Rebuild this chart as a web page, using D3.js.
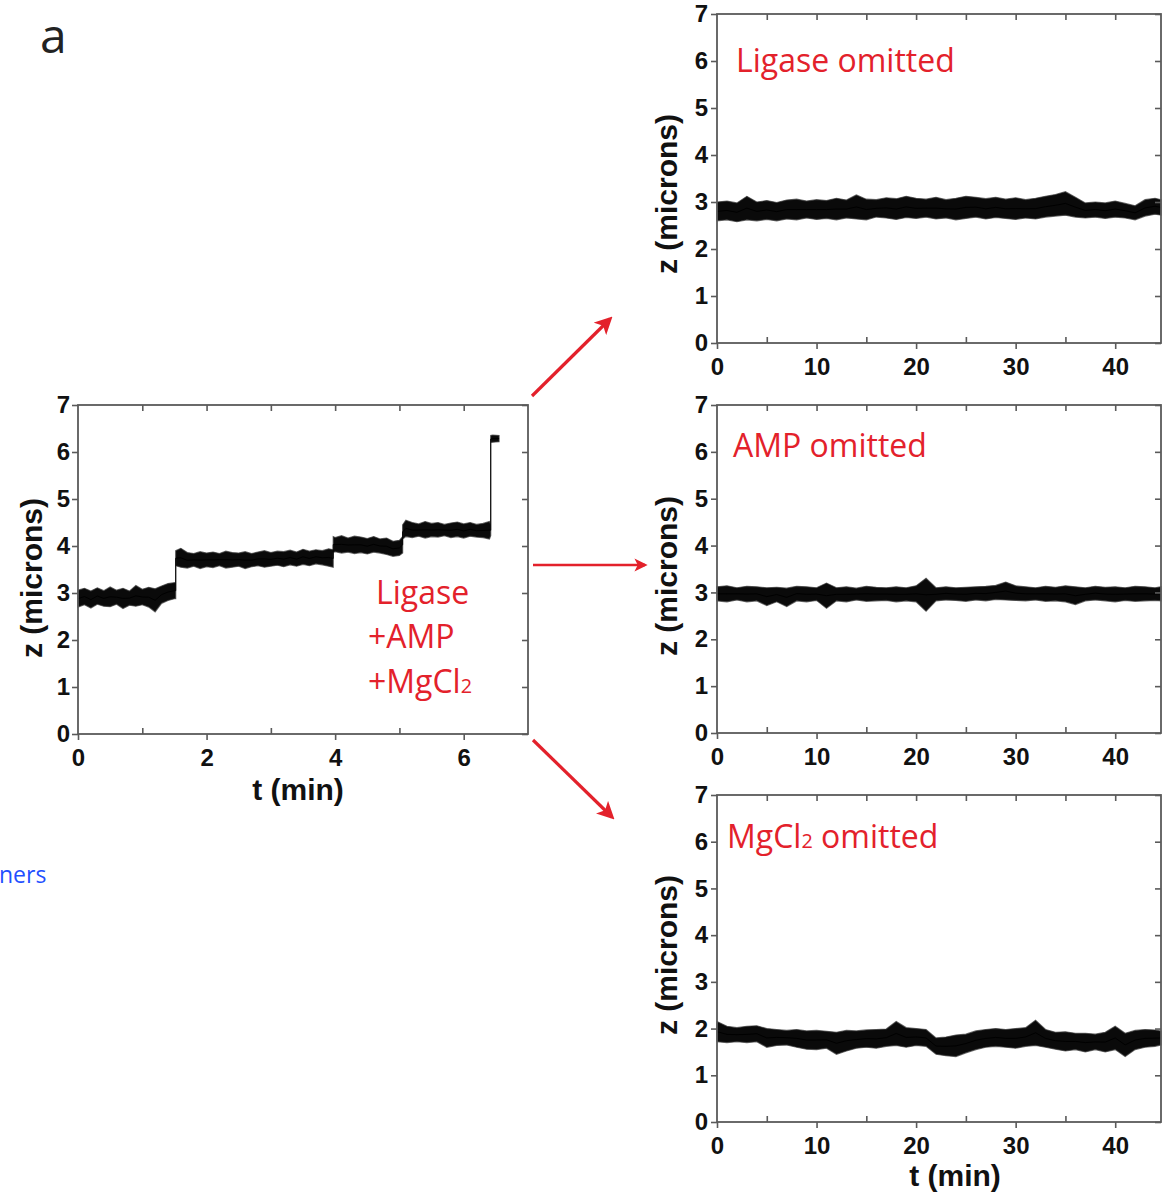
<!DOCTYPE html>
<html>
<head>
<meta charset="utf-8">
<script src="https://cdn.jsdelivr.net/npm/d3@7"></script>
<style>
  body { margin: 0; background: #fff; }
  svg { display: block; }
</style>
</head>
<body>
<svg width="1162" height="1195"></svg>
<script>
// ---- data (band = upper / lower edge of the noisy trace) ----

// full reaction: Ligase + AMP + MgCl2, t in min
let mainT = [0, 0.1, 0.2, 0.3, 0.4, 0.5, 0.6, 0.7, 0.8, 0.9, 1.0, 1.1, 1.2, 1.3, 1.4, 1.5, 1.52,
  1.52, 1.6, 1.7, 1.8, 1.9, 2.0, 2.1, 2.2, 2.3, 2.4, 2.5, 2.6, 2.7, 2.8, 2.9, 3.0, 3.1, 3.2, 3.3, 3.4, 3.5, 3.6, 3.7, 3.8, 3.9, 3.97,
  3.97, 4.0, 4.1, 4.2, 4.3, 4.4, 4.5, 4.6, 4.7, 4.8, 4.9, 5.0, 5.05,
  5.05, 5.1, 5.2, 5.3, 5.4, 5.5, 5.6, 5.7, 5.8, 5.9, 6.0, 6.1, 6.2, 6.3, 6.4, 6.42,
  6.42, 6.45, 6.55];
let mainHi = [3.06, 3.10, 3.04, 3.11, 3.05, 3.13, 3.06, 3.10, 3.04, 3.16, 3.08, 3.12, 3.09, 3.15, 3.20, 3.22, 3.22,
  3.90, 3.95, 3.86, 3.84, 3.88, 3.85, 3.87, 3.84, 3.89, 3.86, 3.85, 3.88, 3.84, 3.87, 3.90, 3.86, 3.89, 3.88, 3.91, 3.87, 3.93, 3.89, 3.92, 3.90, 3.94, 3.92,
  4.20, 4.18, 4.22, 4.17, 4.21, 4.19, 4.16, 4.20, 4.15, 4.17, 4.10, 4.12, 4.20,
  4.45, 4.55, 4.50, 4.47, 4.52, 4.48, 4.50, 4.46, 4.49, 4.51, 4.47, 4.50, 4.46, 4.48, 4.52, 4.45,
  6.35, 6.36, 6.35];
let mainLo = [2.70, 2.75, 2.68, 2.76, 2.72, 2.71, 2.76, 2.67, 2.74, 2.72, 2.75, 2.70, 2.60, 2.78, 2.84, 2.88, 2.88,
  3.58, 3.55, 3.53, 3.57, 3.52, 3.56, 3.54, 3.58, 3.53, 3.55, 3.57, 3.52, 3.56, 3.58, 3.55, 3.57, 3.59, 3.56, 3.60, 3.57, 3.61, 3.58, 3.62, 3.60, 3.57, 3.55,
  3.86, 3.88, 3.85, 3.87, 3.84, 3.86, 3.83, 3.87, 3.85, 3.82, 3.78, 3.80, 3.85,
  4.15, 4.20, 4.18, 4.21, 4.17, 4.20, 4.19, 4.22, 4.18, 4.20, 4.17, 4.21, 4.19, 4.18, 4.15, 4.22,
  6.20, 6.21, 6.22];

// control runs, t in min (shared time grid)
let ctrlT = [0, 1, 2, 3, 4, 5, 6, 7, 8, 9, 10, 11, 12, 13, 14, 15, 16, 17, 18, 19, 20, 21, 22,
  23, 24, 25, 26, 27, 28, 29, 30, 31, 32, 33, 34, 35, 36, 37, 38, 39, 40, 41, 42, 43, 44, 44.6];

let noLigaseHi = [3.00, 3.02, 2.98, 3.12, 3.00, 3.03, 2.99, 3.04, 3.06, 3.02, 3.05, 3.03, 3.08, 3.04, 3.15, 3.06, 3.05, 3.09, 3.07, 3.12, 3.08, 3.06, 3.10,
  3.05, 3.08, 3.12, 3.10, 3.07, 3.10, 3.06, 3.09, 3.05, 3.08, 3.12, 3.16, 3.22, 3.10, 2.98, 3.00, 2.98, 3.02, 2.97, 2.92, 3.05, 3.08, 3.05];
let noLigaseLo = [2.60, 2.62, 2.58, 2.62, 2.60, 2.63, 2.60, 2.64, 2.62, 2.66, 2.63, 2.65, 2.62, 2.66, 2.64, 2.62, 2.68, 2.66, 2.63, 2.67, 2.65, 2.68, 2.64,
  2.66, 2.62, 2.65, 2.68, 2.64, 2.67, 2.65, 2.63, 2.66, 2.64, 2.68, 2.70, 2.72, 2.68, 2.66, 2.68, 2.65, 2.68, 2.66, 2.62, 2.70, 2.74, 2.72];

let noAmpHi = [3.12, 3.14, 3.10, 3.13, 3.12, 3.10, 3.11, 3.09, 3.13, 3.12, 3.10, 3.20, 3.10, 3.12, 3.09, 3.13, 3.11, 3.10, 3.12, 3.10, 3.14, 3.30, 3.10,
  3.12, 3.10, 3.11, 3.12, 3.13, 3.15, 3.22, 3.14, 3.12, 3.10, 3.13, 3.11, 3.14, 3.12, 3.10, 3.13, 3.11, 3.12, 3.10, 3.13, 3.12, 3.10, 3.12];
let noAmpLo = [2.82, 2.80, 2.84, 2.80, 2.82, 2.72, 2.80, 2.70, 2.82, 2.80, 2.83, 2.66, 2.82, 2.80, 2.84, 2.81, 2.82, 2.83, 2.80, 2.82, 2.80, 2.60, 2.82,
  2.84, 2.83, 2.81, 2.84, 2.82, 2.85, 2.84, 2.83, 2.82, 2.84, 2.81, 2.82, 2.80, 2.74, 2.82, 2.84, 2.82, 2.80, 2.83, 2.81, 2.82, 2.83, 2.82];

let noMgHi = [2.15, 2.05, 2.02, 2.05, 2.06, 2.00, 1.98, 1.96, 1.98, 1.95, 1.96, 1.94, 1.92, 1.96, 1.95, 1.97, 1.98, 1.99, 2.15, 2.02, 2.00, 1.98, 1.80,
  1.82, 1.86, 1.88, 1.95, 1.98, 2.00, 1.98, 2.00, 2.02, 2.18, 1.98, 1.92, 1.93, 1.90, 1.90, 1.88, 1.92, 2.05, 1.90, 1.96, 1.98, 1.97, 1.95];
let noMgLo = [1.72, 1.70, 1.72, 1.70, 1.72, 1.60, 1.64, 1.65, 1.60, 1.56, 1.55, 1.58, 1.45, 1.52, 1.58, 1.60, 1.58, 1.62, 1.64, 1.60, 1.64, 1.62, 1.45,
  1.42, 1.40, 1.48, 1.55, 1.60, 1.62, 1.60, 1.58, 1.62, 1.64, 1.60, 1.56, 1.52, 1.55, 1.50, 1.55, 1.50, 1.55, 1.40, 1.55, 1.60, 1.62, 1.65];

let yTicks = [0, 1, 2, 3, 4, 5, 6, 7];
let mainXMajor = [0, 2, 4, 6];
let mainXMinor = [1, 3, 5];
let mainXTop = [1, 2, 3, 4, 5, 6];
let ctrlXMajor = [0, 10, 20, 30, 40];
let ctrlXMinor = [5, 15, 25, 35];
let ctrlXTop = [5, 10, 15, 20, 25, 30, 35, 40];

/***************************/

let svg = d3.select("svg");
let red = "#e3212b";
let tickFont = "'Liberation Sans', Arial, sans-serif";
let labelFont = "'Open Sans', 'Noto Sans', sans-serif";
let fmt = d3.format("d");

function drawPanel(p) {
  let x = d3.scaleLinear().domain(p.xDomain).range([p.left, p.right]);
  let y = d3.scaleLinear().domain([0, 7]).range([p.bottom, p.top]);
  let g = svg.append("g");

  // trace band
  let rows = p.t.map((t, i) => ({t: t, hi: p.hi[i], lo: p.lo[i]}));
  let area = d3.area()
    .x(d => x(d.t))
    .y0(d => y(d.lo))
    .y1(d => y(d.hi));
  let mid = d3.line()
    .x(d => x(d.t))
    .y(d => y((d.hi + d.lo) / 2));
  g.append("path")
    .datum(rows)
    .attr("d", area)
    .attr("fill", "#0a0a0a")
    .attr("stroke", "#333")
    .attr("stroke-width", 1.2)
    .attr("stroke-opacity", 0.7);
  g.append("path")
    .datum(rows)
    .attr("d", mid)
    .attr("fill", "none")
    .attr("stroke", "#000")
    .attr("stroke-width", 1);

  // frame
  g.append("rect")
    .attr("x", p.left).attr("y", p.top)
    .attr("width", p.right - p.left).attr("height", p.bottom - p.top)
    .attr("fill", "none").attr("stroke", "#5a5a5a").attr("stroke-width", 1.8);

  // left axis, ticks outward with labels
  let yAx = g.append("g")
    .attr("transform", `translate(${p.left},0)`)
    .call(d3.axisLeft(y).tickValues(yTicks).tickFormat(fmt).tickSize(6).tickPadding(p.yPad));
  // right frame, ticks inward
  let yAxR = g.append("g")
    .attr("transform", `translate(${p.right},0)`)
    .call(d3.axisLeft(y).tickValues(yTicks).tickSize(6).tickFormat(""));
  // bottom axis, major outward
  let xAx = g.append("g")
    .attr("transform", `translate(0,${p.bottom})`)
    .call(d3.axisBottom(x).tickValues(p.xMajor).tickFormat(fmt).tickSize(6).tickPadding(9));
  // bottom minor inward
  let xAxMin = g.append("g")
    .attr("transform", `translate(0,${p.bottom})`)
    .call(d3.axisTop(x).tickValues(p.xMinor).tickSize(6).tickFormat(""));
  // top frame, ticks inward
  let xAxTop = g.append("g")
    .attr("transform", `translate(0,${p.top})`)
    .call(d3.axisBottom(x).tickValues(p.xTop).tickSize(6).tickFormat(""));

  [yAx, yAxR, xAx, xAxMin, xAxTop].forEach(a => {
    a.select(".domain").remove();
    a.selectAll(".tick line").attr("stroke", "#5a5a5a").attr("stroke-width", 1.6);
    a.selectAll("text")
      .attr("font-family", tickFont)
      .attr("font-weight", "bold")
      .attr("font-size", 24)
      .attr("fill", "#111");
  });

  // y title
  g.append("text")
    .attr("transform", `translate(${p.yTitleX},${p.yTitleY}) rotate(-90)`)
    .attr("text-anchor", "middle")
    .attr("font-family", tickFont)
    .attr("font-weight", "bold")
    .attr("font-size", 30)
    .attr("fill", "#111")
    .text("z (microns)");

  if (p.xTitleY) {
    g.append("text")
      .attr("x", (p.left + p.right) / 2 + p.xTitleDx)
      .attr("y", p.xTitleY)
      .attr("text-anchor", "middle")
      .attr("font-family", tickFont)
      .attr("font-weight", "bold")
      .attr("font-size", 30)
      .attr("fill", "#111")
      .text("t (min)");
  }
}

let panels = [
  {t: mainT, hi: mainHi, lo: mainLo, xDomain: [0, 7], left: 78, right: 528, top: 405, bottom: 734,
   xMajor: mainXMajor, xMinor: mainXMinor, xTop: mainXTop, yPad: 2,
   yTitleX: 42, yTitleY: 578, xTitleY: 800, xTitleDx: -5},
  {t: ctrlT, hi: noLigaseHi, lo: noLigaseLo, xDomain: [0, 44.6], left: 717, right: 1161, top: 14, bottom: 343,
   xMajor: ctrlXMajor, xMinor: ctrlXMinor, xTop: ctrlXTop, yPad: 3,
   yTitleX: 677, yTitleY: 194},
  {t: ctrlT, hi: noAmpHi, lo: noAmpLo, xDomain: [0, 44.6], left: 717, right: 1161, top: 405, bottom: 733,
   xMajor: ctrlXMajor, xMinor: ctrlXMinor, xTop: ctrlXTop, yPad: 3,
   yTitleX: 677, yTitleY: 576},
  {t: ctrlT, hi: noMgHi, lo: noMgLo, xDomain: [0, 44.6], left: 717, right: 1161, top: 795, bottom: 1122,
   xMajor: ctrlXMajor, xMinor: ctrlXMinor, xTop: ctrlXTop, yPad: 3,
   yTitleX: 677, yTitleY: 955, xTitleY: 1186, xTitleDx: 16}
];
panels.forEach(drawPanel);

// red condition labels
function redLabel(xp, yp, parts, size) {
  let t = svg.append("text")
    .attr("x", xp).attr("y", yp)
    .attr("font-family", labelFont)
    .attr("font-size", size)
    .attr("fill", red);
  parts.forEach(s => {
    let ts = t.append("tspan").text(s.text);
    if (s.sub) ts.attr("font-size", size * 0.62);
  });
}
redLabel(376, 604, [{text: "Ligase"}], 32);
redLabel(368, 648, [{text: "+AMP"}], 32);
redLabel(368, 693, [{text: "+MgCl"}, {text: "2", sub: true}], 32);
redLabel(736, 72, [{text: "Ligase omitted"}], 32);
redLabel(733, 457, [{text: "AMP omitted"}], 32);
redLabel(727, 848, [{text: "MgCl"}, {text: "2", sub: true}, {text: " omitted"}], 32);

// arrows
let defs = svg.append("defs");
defs.append("marker")
  .attr("id", "head")
  .attr("viewBox", "0 0 10 10")
  .attr("refX", 8).attr("refY", 5)
  .attr("markerWidth", 5.5).attr("markerHeight", 5.5)
  .attr("markerUnits", "strokeWidth")
  .attr("orient", "auto")
  .append("path")
  .attr("d", "M0,0 L10,5 L0,10 L2.5,5 Z")
  .attr("fill", red);

let arrows = [
  [532, 396, 610, 319, 3.2],
  [533, 565, 645, 565, 2.4],
  [533, 740, 612, 817, 3.2]
];
arrows.forEach(a => {
  svg.append("line")
    .attr("x1", a[0]).attr("y1", a[1]).attr("x2", a[2]).attr("y2", a[3])
    .attr("stroke", red).attr("stroke-width", a[4])
    .attr("marker-end", "url(#head)");
});

// panel letter and cut-off caption text
svg.append("text")
  .attr("x", 40).attr("y", 53)
  .attr("font-family", labelFont)
  .attr("font-size", 48)
  .attr("fill", "#222")
  .text("a");
svg.append("text")
  .attr("x", -1).attr("y", 883)
  .attr("font-family", labelFont)
  .attr("font-size", 23)
  .attr("fill", "#1f4fff")
  .text("ners");
</script>
</body>
</html>
